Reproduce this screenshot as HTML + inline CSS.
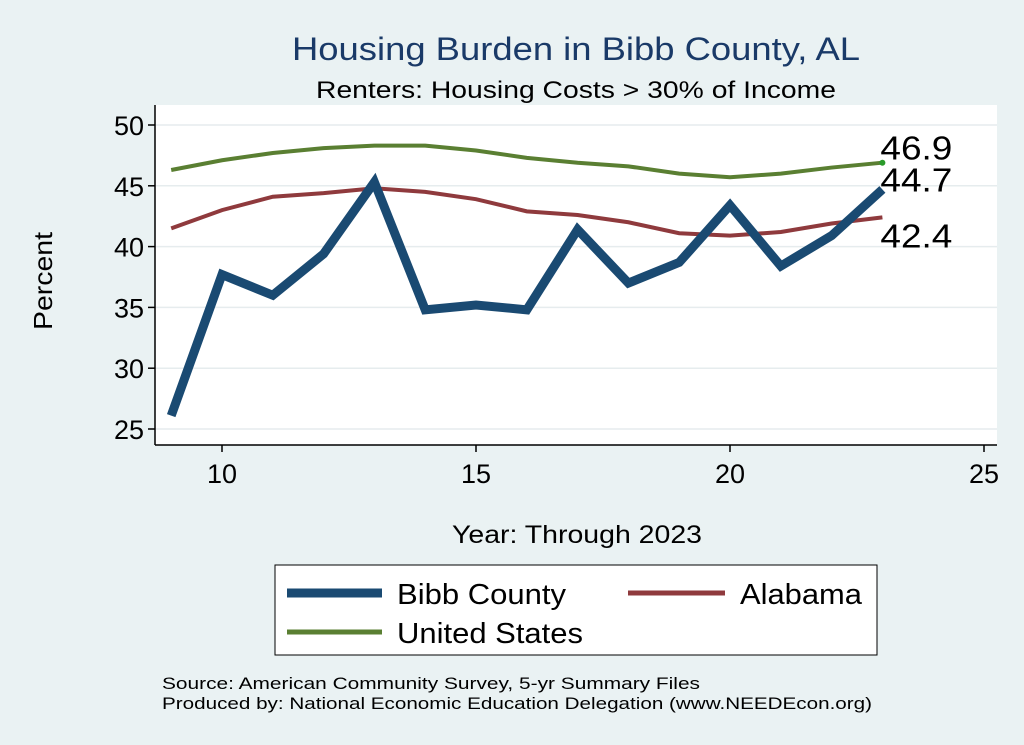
<!DOCTYPE html>
<html><head><meta charset="utf-8"><style>
body{margin:0;background:#eaf2f3;}
svg{display:block;font-family:"Liberation Sans",Arial,sans-serif;}
</style></head><body>
<svg id="chart" width="1024" height="745" viewBox="0 0 1024 745">
<rect x="0" y="0" width="1024" height="745" fill="#eaf2f3"/>
<rect x="155" y="105" width="842" height="340" fill="#ffffff"/>
<text x="292" y="60" font-size="32" fill="#1a3a68" textLength="568" lengthAdjust="spacingAndGlyphs">Housing Burden in Bibb County, AL</text>
<text x="316" y="98" font-size="24" fill="#000" textLength="520" lengthAdjust="spacingAndGlyphs">Renters: Housing Costs &gt; 30% of Income</text>
<g id="grid"></g>
<g id="axes"></g>
<g id="series"></g>
<text x="52" y="330" font-size="26" textLength="98" lengthAdjust="spacingAndGlyphs" transform="rotate(-90 52 330)">Percent</text>
<text x="452" y="543" font-size="25" textLength="250" lengthAdjust="spacingAndGlyphs">Year: Through 2023</text>
<g>
<rect x="275" y="565" width="602" height="90" fill="#fff" stroke="#000" stroke-width="1"/>
<g><line x1="287" y1="593" x2="382" y2="593" stroke="#1a4a72" stroke-width="9"/><text x="397" y="604" font-size="29" textLength="169" lengthAdjust="spacingAndGlyphs">Bibb County</text></g>
<g><line x1="628" y1="593" x2="725" y2="593" stroke="#8f3a3d" stroke-width="5"/><text x="740" y="604" font-size="29" textLength="122" lengthAdjust="spacingAndGlyphs">Alabama</text></g>
<g><line x1="287" y1="632" x2="382" y2="632" stroke="#5a7f32" stroke-width="5"/><text x="397" y="643" font-size="29" textLength="186" lengthAdjust="spacingAndGlyphs">United States</text></g>
</g>
<text x="162" y="689" font-size="17" textLength="538" lengthAdjust="spacingAndGlyphs">Source: American Community Survey, 5-yr Summary Files</text>
<text x="162" y="709" font-size="17" textLength="710" lengthAdjust="spacingAndGlyphs">Produced by: National Economic Education Delegation (www.NEEDEcon.org)</text>
</svg>
<script>
const years=[9,10,11,12,13,14,15,16,17,18,19,20,21,22,23];
const bibb=[26.1,37.7,36.0,39.4,45.3,34.8,35.2,34.8,41.4,37.0,38.7,43.4,38.4,40.9,44.7];
const alabama=[41.5,43.0,44.1,44.4,44.8,44.5,43.9,42.9,42.6,42.0,41.1,40.9,41.2,41.9,42.4];
const usa=[46.3,47.1,47.7,48.1,48.3,48.3,47.9,47.3,46.9,46.6,46.0,45.7,46.0,46.5,46.9];
const xTicks=[10,15,20,25];
const yTicks=[25,30,35,40,45,50];
const NS="http://www.w3.org/2000/svg";
function xs(v){return 222+(v-10)*50.8;}
function ys(v){return 429-(v-25)*12.16;}
function mk(t,a,p){const e=document.createElementNS(NS,t);for(const k in a)e.setAttribute(k,a[k]);p.appendChild(e);return e;}
const grid=document.getElementById('grid'),axes=document.getElementById('axes'),ser=document.getElementById('series');
yTicks.forEach(v=>{
 const g=mk('line',{x1:155,x2:997,y1:ys(v),y2:ys(v),stroke:'#e6ecee','stroke-width':1.5},grid);
 
 
 mk('line',{x1:148,x2:155,y1:ys(v),y2:ys(v),stroke:'#000','stroke-width':1.5},axes);
 const t=mk('text',{x:144,y:ys(v)+10,'font-size':27,'text-anchor':'end'},axes);t.textContent=v;
 
 
});
xTicks.forEach(v=>{
 mk('line',{x1:xs(v),x2:xs(v),y1:445,y2:452,stroke:'#000','stroke-width':1.5},axes);
 const t=mk('text',{x:xs(v),y:483,'font-size':27,'text-anchor':'middle'},axes);t.textContent=v;
 
 
});
mk('line',{x1:155,x2:155,y1:105,y2:445,stroke:'#000','stroke-width':1.5},axes);
mk('line',{x1:155,x2:997,y1:445,y2:445,stroke:'#000','stroke-width':1.5},axes);
function line(vals,color,w,name){
 const p=mk('polyline',{points:vals.map((v,i)=>xs(years[i])+','+ys(v)).join(' '),fill:'none',stroke:color,'stroke-width':w,'stroke-linejoin':'miter'},ser);
 
 
 return vals[vals.length-1];
}
const lu=line(usa,'#5a7f32',4,'line-united-states');
const la=line(alabama,'#8f3a3d',4,'line-alabama');
const lb=line(bibb,'#1a4a72',9,'line-bibb-county');
const lx=xs(years[years.length-1]);
mk('circle',{cx:lx,cy:ys(lu),r:3,fill:'#2a9a2a'},ser);
[[lu,-3,'label-us-last'],[lb,2,'label-bibb-last'],[la,30,'label-alabama-last']].forEach(([v,dy,n])=>{
 const t=mk('text',{x:lx-2,y:ys(v)+dy,'font-size':33,textLength:72,lengthAdjust:'spacingAndGlyphs'},ser);t.textContent=v.toFixed(1);
 
 
});
</script>
</body></html>
